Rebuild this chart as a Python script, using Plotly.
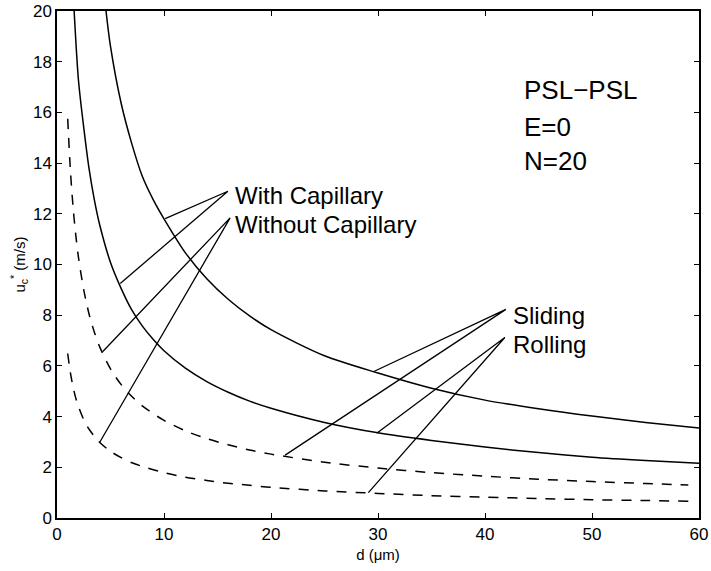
import plotly.graph_objects as go

# Critical velocity u_c* versus particle diameter d, PSL-PSL contact, E=0, N=20
d_slide_cap = [4.5, 5, 6, 7, 8, 9, 10, 12, 14, 16, 18, 20, 25, 30, 35, 40, 45, 50, 55, 60]
u_slide_cap = [20.3, 18.6, 16.35, 14.75, 13.45, 12.55, 11.8, 10.46, 9.44, 8.63, 7.97, 7.43,
               6.40, 5.72, 5.12, 4.65, 4.31, 4.02, 3.77, 3.55]

d_roll_cap = [1.55, 2, 2.5, 3, 3.5, 4, 5, 6, 7, 8, 9, 10, 12, 14, 16, 18, 20, 25, 30,
              35, 40, 45, 50, 55, 60]
u_roll_cap = [20.4, 17.3, 15.4, 13.77, 12.53, 11.55, 10.08, 9.05, 8.2, 7.56, 7.04, 6.6,
              5.91, 5.38, 4.96, 4.61, 4.33, 3.77, 3.36, 3.06, 2.8, 2.58, 2.40, 2.27, 2.16]

d_slide_nocap = [1.0, 1.25, 1.5, 1.75, 2, 2.5, 3, 3.5, 4, 5, 6, 7, 8, 10, 12, 14, 16, 18,
                 20, 25, 30, 35, 40, 45, 50, 55, 59]
u_slide_nocap = [15.75, 13.73, 12.28, 11.18, 10.3, 9.0, 8.04, 7.32, 6.74, 5.88, 5.26, 4.79,
                 4.41, 3.85, 3.44, 3.13, 2.89, 2.68, 2.52, 2.20, 1.97, 1.79, 1.65, 1.53,
                 1.44, 1.36, 1.30]

d_roll_nocap = [1.0, 1.25, 1.5, 1.75, 2, 2.5, 3, 3.5, 4, 5, 6, 7, 8, 10, 12, 14, 16, 18,
                20, 25, 30, 35, 40, 45, 50, 55, 59]
u_roll_nocap = [6.49, 5.73, 5.17, 4.74, 4.40, 3.88, 3.50, 3.22, 2.98, 2.63, 2.38, 2.18,
                2.03, 1.79, 1.61, 1.48, 1.37, 1.29, 1.21, 1.07, 0.97, 0.88, 0.82, 0.77,
                0.72, 0.69, 0.66]

# Leader lines: label anchor -> point on a curve
leader_with_cap = {"x": [10.11, 15.97, 5.91], "y": [11.81, 12.89, 9.25]}
leader_without_cap = {"x": [4.26, 16.18, 3.98], "y": [6.56, 11.84, 2.98]}
leader_sliding = {"x": [29.56, 41.95, 21.32], "y": [5.77, 8.23, 2.48]}
leader_rolling = {"x": [29.88, 41.85, 29.1], "y": [3.34, 7.12, 1.0]}

x_ticks = [0, 10, 20, 30, 40, 50, 60]
y_ticks = [0, 2, 4, 6, 8, 10, 12, 14, 16, 18, 20]

FONT = "Liberation Sans, Arial, Helvetica, sans-serif"

fig = go.Figure()

solid = dict(color="black", width=1.5)
dashed = dict(color="black", width=1.5, dash="10px,9px")

for xs, ys, ln in [
    (d_slide_cap, u_slide_cap, solid),
    (d_roll_cap, u_roll_cap, solid),
    (d_slide_nocap, u_slide_nocap, dashed),
    (d_roll_nocap, u_roll_nocap, dashed),
]:
    fig.add_trace(go.Scatter(x=xs, y=ys, mode="lines",
                             line=dict(shape="spline", smoothing=0.8, **ln),
                             showlegend=False, hoverinfo="skip"))

for leader in [leader_with_cap, leader_without_cap, leader_sliding, leader_rolling]:
    fig.add_trace(go.Scatter(x=leader["x"], y=leader["y"], mode="lines",
                             line=dict(color="black", width=1.3),
                             showlegend=False, hoverinfo="skip"))

labels = [
    ("With Capillary", 16.45, 12.72, 24),
    ("Without Capillary", 16.45, 11.57, 24),
    ("Sliding", 42.45, 8.0, 24),
    ("Rolling", 42.45, 6.86, 24),
    ("PSL\u2212PSL", 43.5, 16.9, 26),
    ("E=0", 43.5, 15.42, 26),
    ("N=20", 43.5, 14.1, 26),
]
for text, x, y, size in labels:
    fig.add_annotation(x=x, y=y, text=text, showarrow=False, xanchor="left", yanchor="middle",
                       font=dict(family=FONT, size=size, color="black"))

axis_common = dict(
    showline=True, linecolor="black", linewidth=1.5, mirror="ticks",
    ticks="inside", ticklen=5, tickwidth=1.2, tickcolor="black",
    showgrid=False, zeroline=False, automargin=False,
    tickfont=dict(family=FONT, size=17, color="black"),
)

fig.update_xaxes(range=[0, 60], tickvals=x_ticks, ticktext=[str(v) for v in x_ticks],
                 title=dict(text="d (\u03bcm)", font=dict(family=FONT, size=15, color="black"),
                            standoff=6),
                 **axis_common)
fig.update_yaxes(range=[0, 20], tickvals=y_ticks, ticktext=[str(v) for v in y_ticks],
                 title=dict(text="u<sub>c</sub><sup>*</sup> (m/s)",
                            font=dict(family=FONT, size=15, color="black"), standoff=4),
                 **axis_common)

fig.update_layout(
    width=711, height=571,
    margin=dict(l=57, r=12, t=11, b=53),
    paper_bgcolor="white", plot_bgcolor="white",
    font=dict(family=FONT, color="black"),
)

fig.write_html("out.html")
